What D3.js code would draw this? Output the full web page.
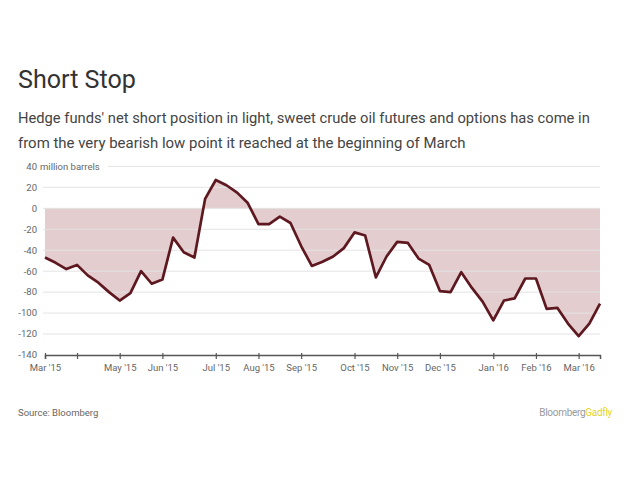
<!DOCTYPE html>
<html>
<head>
<meta charset="utf-8">
<script src="https://cdn.jsdelivr.net/npm/d3@7"></script>
<style>
  html, body { margin: 0; padding: 0; background: #fff; }
  svg { display: block; }
  text { font-family: Roboto, "Noto Sans", sans-serif; }
</style>
</head>
<body>
<svg id="chart" width="630" height="488"></svg>
<script>
// ---- data ----
const dates = [
  "2015-03-17","2015-03-24","2015-03-31","2015-04-07","2015-04-14","2015-04-21","2015-04-28",
  "2015-05-05","2015-05-12","2015-05-19","2015-05-26","2015-06-02","2015-06-09","2015-06-16",
  "2015-06-23","2015-06-30","2015-07-07","2015-07-14","2015-07-21","2015-07-28","2015-08-04",
  "2015-08-11","2015-08-18","2015-08-25","2015-09-01","2015-09-08","2015-09-15","2015-09-22",
  "2015-09-29","2015-10-06","2015-10-13","2015-10-20","2015-10-27","2015-11-03","2015-11-10",
  "2015-11-17","2015-11-24","2015-12-01","2015-12-08","2015-12-15","2015-12-22","2015-12-29",
  "2016-01-05","2016-01-12","2016-01-19","2016-01-26","2016-02-02","2016-02-09","2016-02-16",
  "2016-02-23","2016-03-01","2016-03-08","2016-03-15"
];
const netShort = [
  -47, -52, -58, -54, -64, -71, -80,
  -88, -81, -60, -72, -68, -28, -42,
  -47, 9, 27, 22, 15, 5, -15,
  -15, -8, -14, -36, -55, -51, -46,
  -38, -23, -26, -66, -46, -32, -33,
  -48, -54, -79, -80, -61, -76, -89,
  -107, -88, -86, -67, -67, -96, -95,
  -110, -122, -110, -91
];
const tickDates = ["2015-03-17","2015-04-07","2015-05-05","2015-06-02","2015-07-07","2015-08-04",
  "2015-09-01","2015-10-06","2015-11-03","2015-12-01","2016-01-05","2016-02-02","2016-03-01"];
const tickLabels = ["Mar '15","","May '15","Jun '15","Jul '15","Aug '15","Sep '15",
  "Oct '15","Nov '15","Dec '15","Jan '16","Feb '16","Mar '16"];
const yTicks = [40, 20, 0, -20, -40, -60, -80, -100, -120, -140];

const title = "Short Stop";
const subtitle = [
  "Hedge funds' net short position in light, sweet crude oil futures and options has come in",
  "from the very bearish low point it reached at the beginning of March"
];
const source = "Source: Bloomberg";

// ---- drawing ----
const parse = d3.utcParse("%Y-%m-%d");
const data = dates.map((d, i) => ({ date: parse(d), value: netShort[i] }));

const svg = d3.select("#chart");
const x = d3.scaleUtc()
  .domain(d3.extent(data, d => d.date))
  .range([45, 600]);
const y = d3.scaleLinear().domain([-140, 40]).range([355, 166.4]);

// title
const t = svg.append("text").attr("x", 18).attr("y", 88)
  .attr("font-size", 22).attr("fill", "#333").text(title);
const tw = t.node().getComputedTextLength();
t.attr("font-size", 22 * 118 / tw);

const subW = [572, 448];
subtitle.forEach((s, i) => {
  const st = svg.append("text").attr("x", 18).attr("y", 123 + i * 25)
    .attr("font-size", 15).attr("fill", "#444").text(s);
  const w = st.node().getComputedTextLength();
  st.attr("font-size", 15 * subW[i] / w);
});

// area fill (between line and zero)
const area = d3.area()
  .x(d => x(d.date)).y0(y(0)).y1(d => y(d.value));
svg.append("path").datum(data)
  .attr("d", area)
  .attr("fill", "#9c4a53").attr("fill-opacity", 0.28);

// gridlines
const grid = svg.append("g");
yTicks.filter(v => v > -140).forEach(v => {
  grid.append("line")
    .attr("x1", v === 40 ? 108 : 43).attr("x2", 600)
    .attr("y1", y(v)).attr("y2", y(v))
    .attr("stroke", "#e3e3e3").attr("stroke-width", 1);
});

// y labels
const yl = svg.append("g");
yTicks.forEach(v => {
  yl.append("text")
    .attr("x", 37).attr("y", y(v)).attr("dy", "0.35em")
    .attr("text-anchor", "end").attr("font-size", 9.5).attr("fill", "#666")
    .text(v);
});
svg.append("text").attr("x", 40).attr("y", y(40)).attr("dy", "0.35em")
  .attr("font-size", 9.5).attr("fill", "#666").text("million barrels");

// x axis
const xAxis = d3.axisBottom(x)
  .tickValues(tickDates.map(parse))
  .tickSize(4)
  .tickFormat((d, i) => tickLabels[i]);
const gx = svg.append("g").attr("transform", `translate(0,${y(-140)})`).call(xAxis);
gx.select(".domain").attr("stroke", "#555").attr("stroke-width", 1.5);
gx.selectAll(".tick line").attr("stroke", "#555").attr("stroke-width", 1.2).attr("y1", -2);
gx.selectAll(".tick text").attr("font-size", 9.5).attr("fill", "#666")
  .attr("font-family", "Roboto, sans-serif").attr("dy", "0.9em");

// line
const line = d3.line().x(d => x(d.date)).y(d => y(d.value));
svg.append("path").datum(data)
  .attr("d", line)
  .attr("fill", "none").attr("stroke", "#5e1820").attr("stroke-width", 2.7)
  .attr("stroke-linejoin", "round");

// footer
svg.append("text").attr("x", 18).attr("y", 416)
  .attr("font-size", 9.5).attr("fill", "#666").text(source);
const brand = svg.append("text").attr("x", 612).attr("y", 416)
  .attr("text-anchor", "end").attr("font-size", 10).attr("letter-spacing", -0.3);
brand.append("tspan").attr("fill", "#9a9a9a").text("Bloomberg");
brand.append("tspan").attr("fill", "#e6d31e").text("Gadfly");
</script>
</body>
</html>
